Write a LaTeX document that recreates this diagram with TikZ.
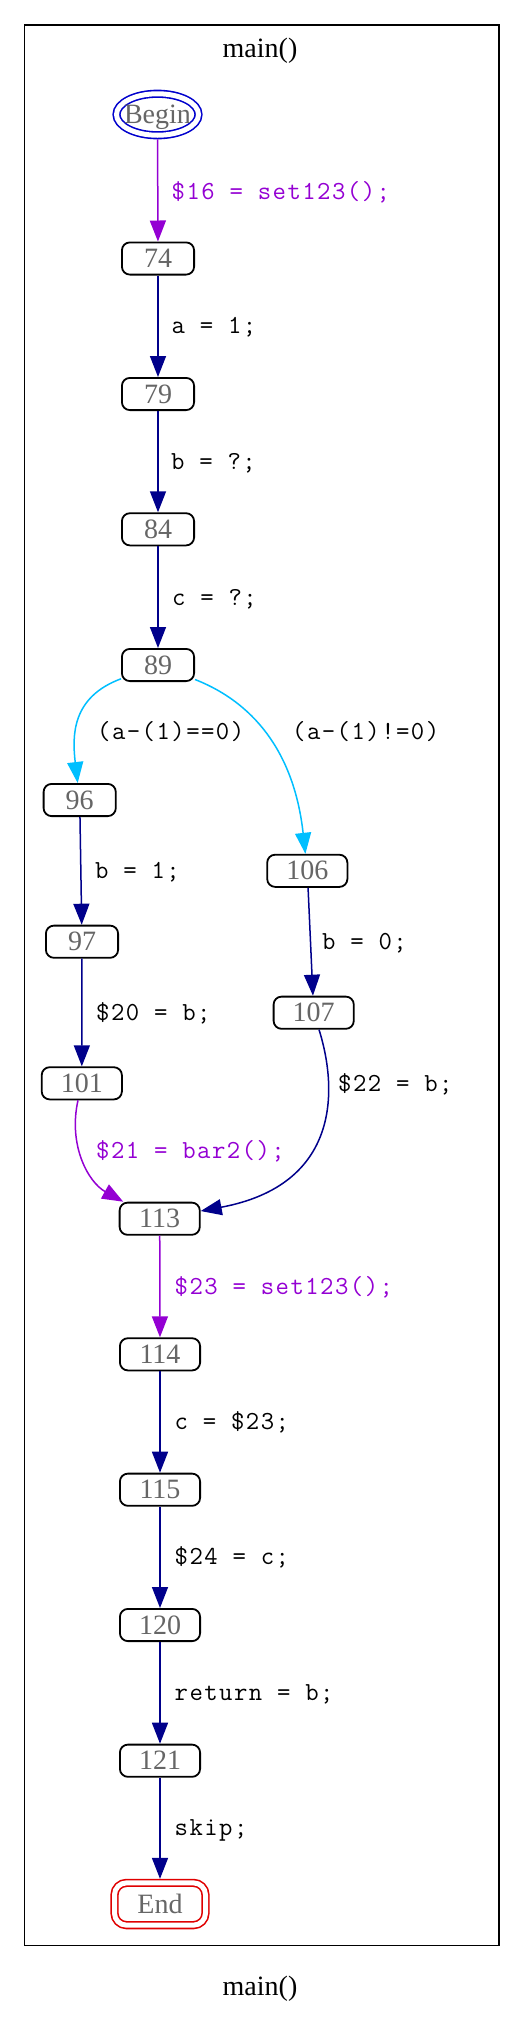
\documentclass[tikz,border=0pt]{standalone}
\usepackage{fontspec}
\setmainfont{Liberation Serif}
\newfontfamily\lblfont[LetterSpace=5.6]{Latin Modern Mono}
\usetikzlibrary{arrows.meta,shapes.geometric}
\definecolor{dviolet}{HTML}{9400D3}
\definecolor{dsky}{HTML}{00BFFF}
\definecolor{dblue}{HTML}{00008B}
\definecolor{ngray}{HTML}{666666}
\definecolor{bblue}{HTML}{0000CD}
\definecolor{ered}{HTML}{E00000}
\tikzset{
 nd/.style={draw=black, line width=1.8pt, rounded corners=8pt, minimum width=72.2pt, minimum height=32.2pt, inner sep=0pt, text=ngray, font=\fontsize{28}{30}\selectfont},
 ndw/.style={nd, minimum width=80.2pt},
 edg/.style={line width=1.5pt, -{Triangle[length=21pt,width=16pt]}},
 lbl/.style={anchor=base west, inner sep=0pt, font=\lblfont\fontsize{26}{28}\selectfont},
 ttl/.style={anchor=base, inner sep=0pt, font=\fontsize{28}{30}\selectfont}
}
\begin{document}
\begin{tikzpicture}[x=1pt,y=-1pt]
\useasboundingbox (0,0) rectangle (531,2019);
\fill[white] (0,0) rectangle (531,2019);
\draw[line width=1.6pt] (24.5,25) rectangle (499,1945.5);
\node[ttl] (t1) at (260,57) {main()};
\node[ttl] (t2) at (260,1995) {main()};

\node[ellipse, draw=bblue, double, double distance=5pt, line width=1.6pt, minimum width=82pt, minimum height=41.5pt, inner sep=0pt, outer sep=4pt, text=ngray, font=\fontsize{28}{30}\selectfont, text depth=0pt] (nB) at (157.5,114.5) {\makebox[0pt]{Begin}};
\node[nd] (n74) at (158,258.5) {74};
\node[nd] (n79) at (158,394) {79};
\node[nd] (n84) at (158,529.3) {84};
\node[nd] (n89) at (158,665) {89};
\node[nd] (n96) at (79.7,800) {96};
\node[nd] (n97) at (82,941.7) {97};
\node[ndw] (n101) at (81.8,1083.3) {101};
\node[ndw] (n106) at (307.3,870.8) {106};
\node[ndw] (n107) at (313.7,1012.7) {107};
\node[ndw] (n113) at (159.7,1218.7) {113};
\node[ndw] (n114) at (160,1354.3) {114};
\node[ndw] (n115) at (160,1489.7) {115};
\node[ndw] (n120) at (160,1625) {120};
\node[ndw] (n121) at (160,1760.7) {121};
\node[draw=ered, double, double distance=5pt, line width=1.6pt, rounded corners=12pt, minimum width=91pt, minimum height=42.3pt, inner sep=0pt, outer sep=4pt, text=ngray, font=\fontsize{28}{30}\selectfont] (nE) at (160,1904) {End};

\draw[edg, dviolet] (nB) -- (n74);
\draw[edg, dblue] (n74) -- (n79);
\draw[edg, dblue] (n79) -- (n84);
\draw[edg, dblue] (n84) -- (n89);
\draw[edg, dsky] (n89) .. controls (72,697) and (72,735) .. (n96);
\draw[edg, dsky] (n89) .. controls (260,705) and (295,760) .. (n106);
\draw[edg, dblue] (n96) -- (n97);
\draw[edg, dblue] (n97) -- (n101);
\draw[edg, dblue] (n106) -- (n107);
\draw[edg, dviolet] (n101) .. controls (68,1145) and (88,1182) .. (n113.155);
\draw[edg, dblue] (n107) .. controls (338,1090) and (340,1185) .. (n113);
\draw[edg, dviolet] (n113) -- (n114);
\draw[edg, dblue] (n114) -- (n115);
\draw[edg, dblue] (n115) -- (n120);
\draw[edg, dblue] (n120) -- (n121);
\draw[edg, dblue] (n121) -- (nE);

\node[lbl, text=dviolet] (l1) at (171.5,199.3) {\$16 = set123();};
\node[lbl] (l2) at (171.5,333.3) {a = 1;};
\node[lbl] (l3) at (171,469.3) {b = ?;};
\node[lbl] (l4) at (172,605) {c = ?;};
\node[lbl] (l5) at (97,739.3) {(a-(1)==0)};
\node[lbl] (l6) at (292,739.3) {(a-(1)!=0)};
\node[lbl] (l7) at (95,878.3) {b = 1;};
\node[lbl] (l8) at (322,949.3) {b = 0;};
\node[lbl] (l9) at (96,1020) {\$20 = b;};
\node[lbl] (l10) at (338,1091) {\$22 = b;};
\node[lbl, text=dviolet] (l11) at (96,1158.3) {\$21 = bar2();};
\node[lbl, text=dviolet] (l12) at (174.5,1294.3) {\$23 = set123();};
\node[lbl] (l13) at (174.5,1429.3) {c = \$23;};
\node[lbl] (l14) at (174.5,1564.3) {\$24 = c;};
\node[lbl] (l15) at (174.5,1700.7) {return = b;};
\node[lbl] (l16) at (174.5,1835.7) {skip;};
\end{tikzpicture}
\end{document}
